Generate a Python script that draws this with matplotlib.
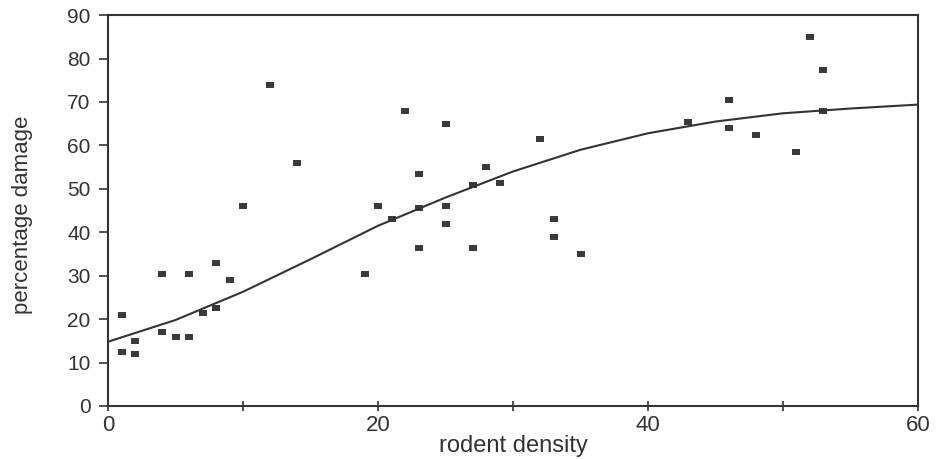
import matplotlib
matplotlib.use("Agg")
import matplotlib.pyplot as plt

plt.rcParams['font.family'] = ['Liberation Sans', 'DejaVu Sans']

# observed points (rodent density, percentage damage)
density = [1, 1, 2, 2, 4, 4, 5, 6, 6, 7, 8, 8, 9, 10, 12, 14,
           19, 20, 21, 22, 23, 23, 23, 25, 25, 25, 27, 27, 28, 29,
           32, 33, 33, 35, 43, 46, 46, 48, 51, 52, 53, 53]
damage = [21, 12.5, 15, 12, 30.5, 17, 16, 30.5, 16, 21.5, 33, 22.6, 29, 46, 74, 56,
          30.5, 46, 43, 68, 53.4, 45.6, 36.4, 65, 46, 42, 51, 36.4, 55, 51.3,
          61.5, 43, 39, 35, 65.4, 70.4, 64, 62.4, 58.5, 85, 77.3, 68]

# fitted curve
fit_x = [0, 5, 10, 15, 20, 25, 30, 35, 40, 45, 50, 55, 60]
fit_y = [14.8, 19.8, 26.3, 33.8, 41.5, 48, 54, 59, 62.8, 65.5, 67.4, 68.5, 69.4]

fig = plt.figure(figsize=(9.37, 4.59), dpi=100)
ax = fig.add_axes([0.1153, 0.1155, 0.8644, 0.8515])

# small flat squares like the original
rect = [(-1, -0.72), (1, -0.72), (1, 0.72), (-1, 0.72), (-1, -0.72)]
ax.plot(density, damage, linestyle='none', marker=rect, markersize=6.3,
        color='#3a3a3a', markeredgewidth=0)
ax.plot(fit_x, fit_y, color='#333333', linewidth=1.5)

ax.set_xlim(0, 60)
ax.set_ylim(0, 90)
ax.set_xticks([0, 20, 40, 60])
ax.set_xticks([10, 30, 50], minor=True)
ax.set_yticks(range(0, 91, 10))

ax.tick_params(axis='y', direction='out', length=6.5, width=1.2, pad=6,
               labelsize=15, colors='#333333')
ax.tick_params(axis='x', which='both', direction='inout', length=7, width=1.2,
               pad=3, labelsize=16, colors='#333333')
for s in ax.spines.values():
    s.set_linewidth(1.5)
    s.set_color('#333333')

ax.set_xlabel('rodent density', fontsize=17, color='#333333')
ax.set_ylabel('percentage damage', fontsize=16, color='#333333')
ax.xaxis.set_label_coords(0.5, -0.075)
ax.yaxis.set_label_coords(-0.093, 0.49)

fig.savefig('out.png', dpi=100)
